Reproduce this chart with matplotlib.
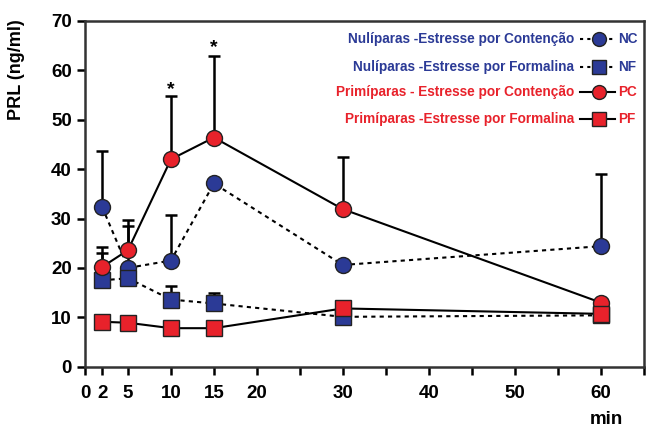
import numpy as np
import matplotlib.pyplot as plt

plt.rcParams['font.family'] = ['Liberation Sans', 'DejaVu Sans']
plt.rcParams['font.weight'] = 'bold'

tempo = [2, 5, 10, 15, 30, 60]

nc = [32.3, 20.0, 21.5, 37.1, 20.6, 24.4]
nc_err = [11.4, 8.5, 9.2, 0.0, 0.0, 14.6]
nf = [17.5, 17.9, 13.6, 12.8, 10.1, 10.4]
nf_err = [5.5, 0.0, 2.8, 2.1, 0.0, 0.0]
pc = [20.2, 23.6, 42.0, 46.4, 31.9, 13.0]
pc_err = [4.0, 6.2, 12.8, 16.5, 10.6, 0.0]
pf = [9.1, 8.9, 7.8, 7.8, 11.8, 10.7]
pf_err = [0.0, 0.0, 0.0, 0.0, 0.0, 0.0]

sig_x = [10, 15]
sig_y = [56.2, 64.6]

xticks = [0, 2, 5, 10, 15, 20, 25, 30, 35, 40, 45, 50, 55, 60, 65]
xlabels = ['0', '2', '5', '10', '15', '20', '', '30', '', '40', '', '50', '', '60', '']

azul = '#2b3a96'
vermelho = '#e8222b'

fig = plt.figure(figsize=(6.51, 4.28), dpi=100)
ax = fig.add_axes([0.1306, 0.1432, 0.858, 0.8078])

series = [
    (nc, nc_err, 'o', azul, (0, (2, 2))),
    (nf, nf_err, 's', azul, (0, (2, 2))),
    (pc, pc_err, 'o', vermelho, '-'),
    (pf, pf_err, 's', vermelho, '-'),
]

for vals, errs, mk, cor, ls in series:
    ax.errorbar(tempo, vals, yerr=[np.zeros(len(errs)), errs], fmt='none',
                ecolor='black', elinewidth=1.8, capsize=4, capthick=1.8, zorder=2)
for vals, errs, mk, cor, ls in series:
    ax.plot(tempo, vals, color='black', linestyle=ls, linewidth=1.5,
            marker=mk, markersize=11.5, markerfacecolor=cor,
            markeredgecolor='#222222', markeredgewidth=1.0, zorder=3)

for x, y in zip(sig_x, sig_y):
    ax.text(x, y, '*', ha='center', va='center', fontsize=14, fontweight='bold')

ax.set_xlim(0, 65)
ax.set_ylim(0, 70)
ax.set_xticks(xticks)
ax.set_xticklabels(xlabels)
ax.set_yticks(range(0, 71, 10))
ax.tick_params(axis='both', direction='out', length=6, width=1.8, labelsize=13.5)
ax.tick_params(axis='x', pad=7)
for sp in ax.spines.values():
    sp.set_linewidth(1.8)
    sp.set_color('#333333')

ax.set_ylabel('PRL (ng/ml)', fontsize=13, fontweight='bold')
ax.yaxis.set_label_coords(-0.107, 0.858)
fig.text(0.932, 0.02, 'min', fontsize=13.5, fontweight='bold', ha='center', va='center')

legenda = [
    ('Nulíparas -Estresse por Contenção', 'NC', azul, 'o', (0, (1.5, 2))),
    ('Nulíparas -Estresse por Formalina', 'NF', azul, 's', (0, (1.5, 2))),
    ('Primíparas - Estresse por Contenção', 'PC', vermelho, 'o', '-'),
    ('Primíparas -Estresse por Formalina', 'PF', vermelho, 's', '-'),
]
ys = [0.948, 0.868, 0.795, 0.717]
for (txt, sigla, cor, mk, ls), y in zip(legenda, ys):
    ax.text(0.876, y, txt, transform=ax.transAxes, ha='right', va='center',
            color=cor, fontsize=9.8, fontweight='bold')
    ax.plot([0.886, 0.948], [y, y], transform=ax.transAxes, color='black',
            linestyle=ls, linewidth=1.5, marker=None, clip_on=False)
    ax.plot([0.92], [y], transform=ax.transAxes, marker=mk, markersize=10,
            markerfacecolor=cor, markeredgecolor='#222222', clip_on=False)
    ax.text(0.955, y, sigla, transform=ax.transAxes, ha='left', va='center',
            color=cor, fontsize=9.8, fontweight='bold')

fig.savefig('out.png', dpi=100)
